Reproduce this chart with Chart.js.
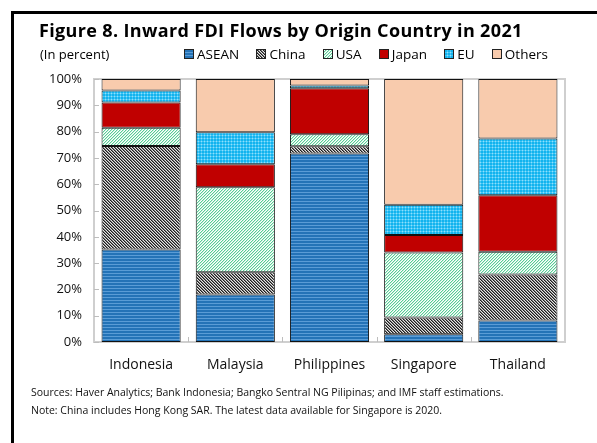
<!DOCTYPE html>
<html>
<head>
<meta charset="utf-8">
<script src="https://cdn.jsdelivr.net/npm/chart.js@4"></script>
<style>
body { margin:0; width:597px; height:443px; overflow:hidden; background:#fff; font-family:"Open Sans", sans-serif; color:#000; position:relative; }
#frame { position:absolute; left:11px; top:11px; right:0; bottom:0; border-left:3px solid #000; border-top:3px solid #000; }
#wrap { position:absolute; left:0; top:0; width:597px; height:443px; }
#title { position:absolute; left:39px; top:18px; font-weight:bold; font-size:18px; letter-spacing:0.35px; white-space:nowrap; }
#unit { position:absolute; left:40px; top:45px; font-size:13px; }
#legend { position:absolute; left:184px; top:45px; width:364px; display:flex; justify-content:space-between; font-size:13.5px; }
.item { display:flex; align-items:center; }
.item canvas { width:10px; height:10px; margin-right:3px; }
#notes { position:absolute; left:31px; top:383px; font-size:10.5px; line-height:18px; color:#111; }
</style>
</head>
<body>
<div id="frame"></div>
<div id="wrap"><canvas id="chart"></canvas></div>
<div id="title">Figure 8. Inward FDI Flows by Origin Country in 2021</div>
<div id="unit">(In percent)</div>
<div id="legend"></div>
<div id="notes">
  <div>Sources: Haver Analytics; Bank Indonesia; Bangko Sentral NG Pilipinas; and IMF staff estimations.</div>
  <div>Note: China includes Hong Kong SAR. The latest data available for Singapore is 2020.</div>
</div>
<script>
const countries = ["Indonesia", "Malaysia", "Philippines", "Singapore", "Thailand"];
const origins = ["ASEAN", "China", "USA", "Japan", "EU", "Others"];
const asean  = [35.2, 18.1, 71.7, 2.9, 8.2];
const china  = [39.3, 8.4, 2.7, 6.4, 17.5];
const usa    = [7.0, 32.3, 4.6, 24.7, 8.6];
const japan  = [9.6, 8.8, 17.5, 6.7, 21.5];
const eu     = [4.5, 12.2, 1.0, 11.5, 21.6];
const others = [4.4, 20.2, 2.5, 47.8, 22.6];
const yTicks = [0, 10, 20, 30, 40, 50, 60, 70, 80, 90, 100];

// little tiles for the hatched fills
function tile(w, h, px) {
    let c = document.createElement("canvas");
    c.width = w; c.height = h;
    let x = c.getContext("2d");
    for (let j = 0; j < h; j++)
        for (let i = 0; i < w; i++) {
            x.fillStyle = px(i, j);
            x.fillRect(i, j, 1, 1);
        }
    return c;
}

const tiles = [
    tile(1, 3, (i, j) => j === 0 ? "#5a9cd6" : "#2473b7"),
    tile(3, 3, (i, j) => ["#1c1c1c", "#7a7a7a", "#e6e6e6"][(i - j + 6) % 3]),
    tile(3, 3, (i, j) => ["#56cc95", "#c8efdb", "#ffffff"][(i + j) % 3]),
    tile(1, 1, () => "#c00000"),
    tile(3, 3, (i, j) => (i === 0 && j === 0) ? "#8fe0fb" : (i === 0 || j === 0) ? "#46c6f5" : "#12b3ee"),
    tile(1, 1, () => "#f8cbad")
];

const canvas = document.getElementById("chart");
const ctx = canvas.getContext("2d");
const fills = tiles.map(t => ctx.createPattern(t, "repeat"));
const values = [asean, china, usa, japan, eu, others];

// legend
const legend = document.getElementById("legend");
origins.forEach((name, k) => {
    let item = document.createElement("div");
    item.className = "item";
    let box = document.createElement("canvas");
    box.width = 10; box.height = 10;
    let b = box.getContext("2d");
    b.fillStyle = b.createPattern(tiles[k], "repeat");
    b.fillRect(0, 0, 10, 10);
    b.strokeStyle = "#222";
    b.lineWidth = 1;
    b.strokeRect(0.5, 0.5, 9, 9);
    item.appendChild(box);
    let t = document.createElement("span");
    t.textContent = name;
    item.appendChild(t);
    legend.appendChild(item);
});

const frame = {
    id: "plotFrame",
    beforeDatasetsDraw(chart) {
        let a = chart.chartArea, c = chart.ctx;
        c.save();
        c.strokeStyle = "#cfcfcf";
        c.lineWidth = 2;
        c.strokeRect(a.left, a.top, a.right - a.left, a.bottom - a.top);
        c.lineWidth = 1;
        c.strokeStyle = "#bdbdbd";
        let y = chart.scales.y;
        yTicks.forEach(v => {
            let py = Math.round(y.getPixelForValue(v)) + 0.5;
            c.beginPath(); c.moveTo(a.left, py); c.lineTo(a.left + 5, py); c.stroke();
        });
        let x = chart.scales.x;
        for (let i = 1; i < countries.length; i++) {
            let px = Math.round((x.getPixelForValue(i - 1) + x.getPixelForValue(i)) / 2) + 0.5;
            c.beginPath(); c.moveTo(px, a.bottom); c.lineTo(px, a.bottom - 5); c.stroke();
        }
        c.restore();
    }
};

new Chart(canvas, {
    type: "bar",
    data: {
        labels: countries,
        datasets: origins.map((name, k) => ({
            label: name,
            data: values[k],
            backgroundColor: fills[k],
            borderColor: "#111",
            borderWidth: 1,
            borderSkipped: false,
            categoryPercentage: 1,
            barPercentage: 0.84
        }))
    },
    options: {
        responsive: true,
        maintainAspectRatio: false,
        animation: false,
        layout: { padding: { top: 79, left: 0, right: 32, bottom: 61 } },
        plugins: { legend: { display: false }, tooltip: { enabled: false } },
        scales: {
            x: {
                stacked: true,
                grid: { display: false, drawTicks: false },
                border: { display: false },
                ticks: { padding: 15, color: "#111", font: { family: "Open Sans", size: 14 } },
                afterFit(s) { s.height = 40; }
            },
            y: {
                stacked: true,
                min: 0, max: 100,
                grid: { display: false, drawTicks: false },
                border: { display: false },
                afterBuildTicks(s) { s.ticks = yTicks.map(v => ({ value: v })); },
                ticks: { padding: 12, color: "#111", font: { family: "Open Sans", size: 13 }, callback: v => v + "%" },
                afterFit(s) { s.width = 94; }
            }
        }
    },
    plugins: [frame]
});
</script>
</body>
</html>
